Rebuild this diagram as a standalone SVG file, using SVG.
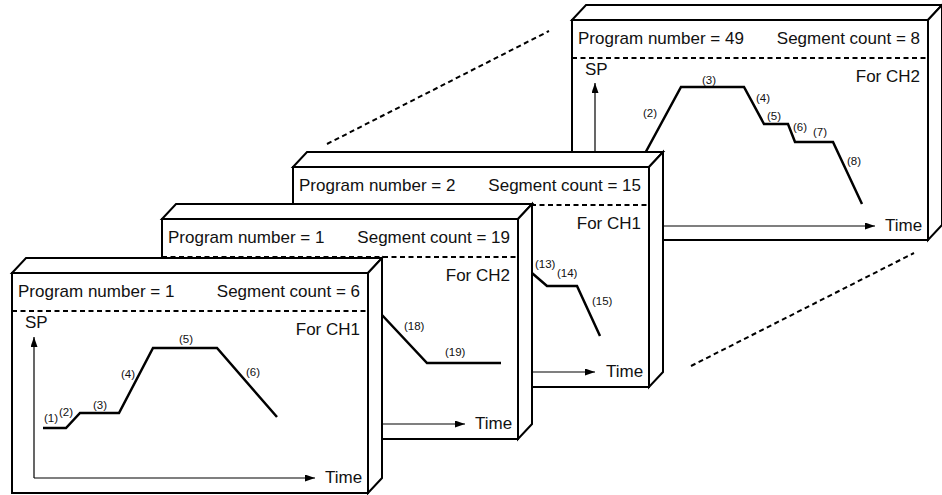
<svg xmlns="http://www.w3.org/2000/svg" width="942" height="495" viewBox="0 0 942 495">
<style>
.face{fill:#fff;stroke:#000;stroke-width:2;stroke-linejoin:miter}
.dash{stroke:#000;stroke-width:2;stroke-dasharray:5 3.5;fill:none}
.curve{fill:none;stroke:#000;stroke-width:2.5;stroke-linejoin:miter}
.axis{stroke:#000;stroke-width:1.2;fill:none;marker-end:url(#arr)}
.t{font-family:"Liberation Sans",Arial,sans-serif;font-size:17px;fill:#111}
.r{text-anchor:end}
.lbl{font-family:"Liberation Sans",Arial,sans-serif;font-size:11.5px;fill:#111}
</style>
<defs>
<marker id="arr" markerUnits="userSpaceOnUse" markerWidth="10" markerHeight="7" refX="10" refY="3.5" orient="auto">
<path d="M0,0 L10,3.5 L0,7 z" fill="#000"/>
</marker>
<g id="frame">
<rect class="face" x="0" y="0" width="356" height="220"/>
<polygon class="face" points="0,0 14,-15 370,-15 356,0"/>
<polygon class="face" points="356,0 370,-15 370,205 356,220"/>
<line class="dash" x1="0" y1="38" x2="356" y2="38"/>
</g>
</defs>
<rect width="942" height="495" fill="#fff"/>

<g id="connectors">
<line class="dash" x1="327" y1="144" x2="549" y2="31"/>
<line class="dash" x1="691" y1="366" x2="914" y2="253"/>
</g>

<g id="box4" transform="translate(572,20)">
<use href="#frame"/>
<text class="t" x="6" y="24">Program number = 49</text>
<text class="t r" x="348" y="24">Segment count = 8</text>
<text class="t r" x="348" y="62">For CH2</text>
<text class="t" x="13" y="55">SP</text>
<line class="axis" x1="23" y1="205" x2="23" y2="63"/>
<line class="axis" x1="23" y1="206" x2="303" y2="206"/>
<text class="t" x="313" y="211">Time</text>
<polyline class="curve" points="64,150 109,67 172,67 192,104 216,104 223,122 261,122 290,184"/>
<text class="lbl" x="71" y="97">(2)</text>
<text class="lbl" x="130" y="64">(3)</text>
<text class="lbl" x="184" y="82">(4)</text>
<text class="lbl" x="195" y="100">(5)</text>
<text class="lbl" x="221" y="111">(6)</text>
<text class="lbl" x="241" y="116">(7)</text>
<text class="lbl" x="275" y="145">(8)</text>
</g>

<g id="box3" transform="translate(293,167)">
<use href="#frame"/>
<text class="t" x="6" y="24">Program number = 2</text>
<text class="t r" x="348" y="24">Segment count = 15</text>
<text class="t r" x="348" y="62">For CH1</text>
<text class="t" x="13" y="55">SP</text>
<line class="axis" x1="22" y1="205" x2="22" y2="63"/>
<line class="axis" x1="22" y1="205" x2="302" y2="205"/>
<text class="t" x="313" y="210">Time</text>
<polyline class="curve" points="225,94 254,119 284,119 307,169"/>
<text class="lbl" x="242" y="101">(13)</text>
<text class="lbl" x="264" y="110">(14)</text>
<text class="lbl" x="299" y="138">(15)</text>
</g>

<g id="box2" transform="translate(162,219)">
<use href="#frame"/>
<text class="t" x="6" y="24">Program number = 1</text>
<text class="t r" x="348" y="24">Segment count = 19</text>
<text class="t r" x="348" y="62">For CH2</text>
<text class="t" x="13" y="55">SP</text>
<line class="axis" x1="22" y1="205" x2="22" y2="63"/>
<line class="axis" x1="22" y1="205" x2="303" y2="205"/>
<text class="t" x="313" y="210">Time</text>
<polyline class="curve" points="205,80 265,144 339,144"/>
<text class="lbl" x="242" y="111">(18)</text>
<text class="lbl" x="283" y="137">(19)</text>
</g>

<g id="box1" transform="translate(12,273)">
<use href="#frame"/>
<text class="t" x="6" y="24">Program number = 1</text>
<text class="t r" x="348" y="24">Segment count = 6</text>
<text class="t r" x="348" y="62">For CH1</text>
<text class="t" x="13" y="55">SP</text>
<line class="axis" x1="22" y1="205" x2="22" y2="64"/>
<line class="axis" x1="22" y1="205" x2="303" y2="205"/>
<text class="t" x="313" y="210">Time</text>
<polyline class="curve" points="31,155 54,155 68,140 107,140 141,75 205,75 265,144"/>
<text class="lbl" x="32" y="149">(1)</text>
<text class="lbl" x="47" y="143">(2)</text>
<text class="lbl" x="81" y="136">(3)</text>
<text class="lbl" x="109" y="105">(4)</text>
<text class="lbl" x="167" y="70">(5)</text>
<text class="lbl" x="234" y="103">(6)</text>
</g>
</svg>
